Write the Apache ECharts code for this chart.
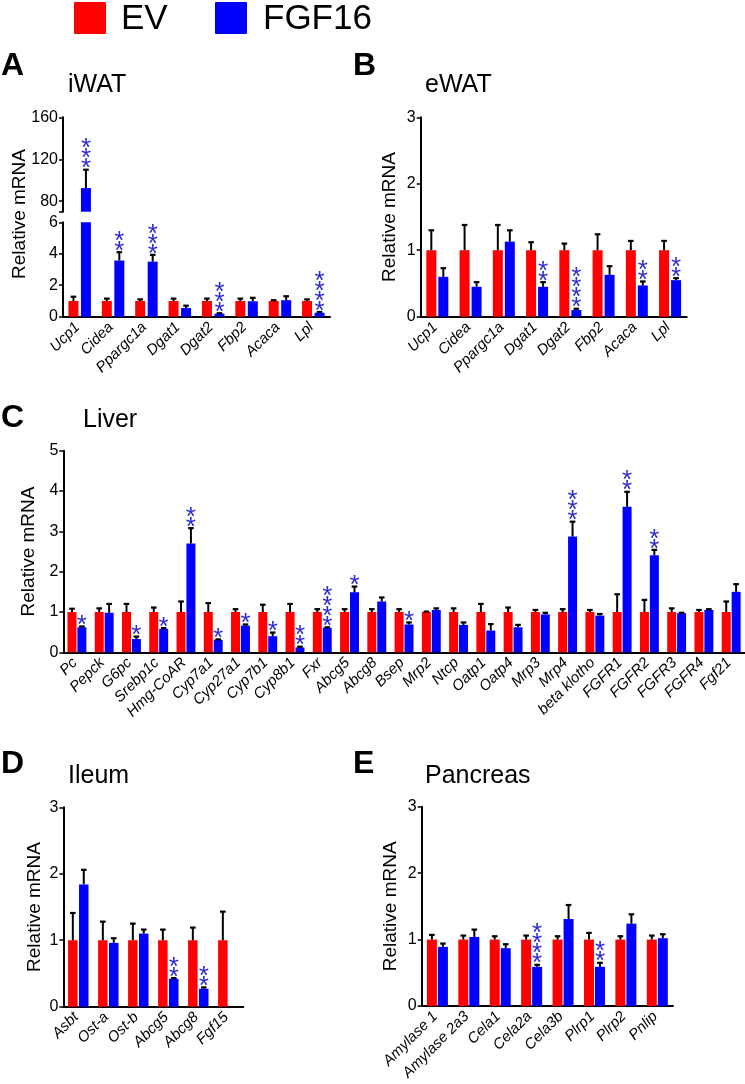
<!DOCTYPE html>
<html><head><meta charset="utf-8">
<script src="https://cdn.jsdelivr.net/npm/echarts@6/dist/echarts.min.js"></script>
<style>html,body{margin:0;padding:0;background:#fff}#c{width:745px;height:1084px}</style>
</head><body><div id="c"></div>
<script>
// ---------------- DATA ----------------
const groupNames = ['EV', 'FGF16'];

// A: iWAT (broken axis)
const catA = ['Ucp1','Cidea','Ppargc1a','Dgat1','Dgat2','Fbp2','Acaca','Lpl'];
const evA = [1,1,1,1,1,1,1,1];
const evTopA = [1.27,1.15,1.1,1.15,1.15,1.15,1.05,1.1];
const fgfA = [92.5,3.57,3.5,0.55,0.19,0.98,1.05,0.25];
const fgfTopA = [110,4.1,3.93,0.7,0.22,1.2,1.3,0.3];
const starsA = ['***','**','***','','***','','','****'];
const yLabelsAUpper = [80,120,160];

// B: eWAT
const catB = ['Ucp1','Cidea','Ppargc1a','Dgat1','Dgat2','Fbp2','Acaca','Lpl'];
const evB = [1,1,1,1,1,1,1,1];
const evTopB = [1.30,1.38,1.38,1.12,1.10,1.24,1.14,1.14];
const fgfB = [0.60,0.45,1.13,0.45,0.10,0.63,0.47,0.55];
const fgfTopB = [0.73,0.52,1.30,0.52,0.12,0.76,0.53,0.58];
const starsB = ['','','','**','****','','**','**'];

// C: Liver
const catC = ['Pc','Pepck','G6pc','Srebp1c','Hmg-CoAR','Cyp7a1','Cyp27a1','Cyp7b1','Cyp8b1','Fxr','Abcg5','Abcg8','Bsep','Mrp2','Ntcp','Oatp1','Oatp4','Mrp3','Mrp4','beta klotho','FGFR1','FGFR2','FGFR3','FGFR4','Fgf21'];
const evC = [1,1,1,1,1,1,1,1,1,1,1,1,1,1,1,1,1,1,1,1,1,1,1,1,1];
const evTopC = [1.08,1.09,1.2,1.11,1.26,1.22,1.07,1.18,1.2,1.07,1.07,1.07,1.07,1.01,1.09,1.2,1.11,1.05,1.07,1.05,1.44,1.30,1.09,1.05,1.26];
const fgfC = [0.62,0.98,0.33,0.58,2.70,0.31,0.66,0.40,0.12,0.61,1.49,1.26,0.69,1.05,0.68,0.54,0.62,0.94,2.87,0.91,3.61,2.41,0.97,1.05,1.50];
const fgfTopC = [0.64,1.2,0.39,0.6,3.08,0.32,0.69,0.49,0.14,0.62,1.63,1.36,0.74,1.09,0.74,0.70,0.68,0.98,3.24,0.95,3.98,2.54,0.98,1.07,1.69];
const starsC = ['*','','*','*','**','*','*','*','**','****','*','','*','','','','','','***','','**','**','','',''];

// D: Ileum
const catD = ['Asbt','Ost-a','Ost-b','Abcg5','Abcg8','Fgf15'];
const evD = [1,1,1,1,1,1];
const evTopD = [1.41,1.28,1.25,1.16,1.19,1.43];
const fgfD = [1.84,0.96,1.10,0.42,0.27,null];
const fgfTopD = [2.06,1.03,1.16,0.43,0.29,null];
const starsD = ['','','','**','**',''];

// E: Pancreas
const catE = ['Amylase 1','Amylase 2a3','Cela1','Cela2a','Cela3b','Plrp1','Plrp2','Pnlip'];
const evE = [1,1,1,1,1,1,1,1];
const evTopE = [1.07,1.06,1.05,1.06,1.05,1.10,1.05,1.06];
const fgfE = [0.89,1.04,0.87,0.59,1.31,0.59,1.24,1.02];
const fgfTopE = [0.94,1.15,0.93,0.62,1.52,0.65,1.38,1.08];
const starsE = ['','','','****','','**','',''];

// ---------------- STYLE / BUILD ----------------
const FONT = "'Liberation Sans', Arial, Helvetica, sans-serif";
const RED = '#ff0000', BLUE = '#0000ff', STAR = '#2b2bd2';
const AX = {color:'#000', width:2};

const grids = [], xAxes = [], yAxes = [], series = [];

function addGrid(g){ grids.push(Object.assign({outerBoundsMode:'none', containLabel:false}, g)); return grids.length - 1; }

function xAxisFor(gi, cats, show){
  return {type:'category', gridIndex:gi, data:cats, show:show,
    axisLine:{lineStyle:AX}, axisTick:{alignWithLabel:true, length:4, lineStyle:{color:'#000', width:1.5}},
    axisLabel:{interval:0, rotate:45, fontStyle:'italic', fontSize:15, color:'#000', margin:6,
      padding:[0, 3, 0, 0], fontFamily:FONT}};
}
function yAxisFor(gi, min, max, interval, name, nameGap, extra){
  return Object.assign({type:'value', gridIndex:gi, min:min, max:max, interval:interval,
    splitLine:{show:false}, axisLine:{show:true, lineStyle:AX},
    axisTick:{show:true, length:4, lineStyle:{color:'#000', width:1.5}},
    axisLabel:{fontSize:16, color:'#000', margin:5, fontFamily:FONT},
    name:name, nameLocation:'middle', nameGap:nameGap,
    nameTextStyle:{fontSize:19, color:'#000', fontFamily:FONT}}, extra||{});
}

function barPair(gi, ev, fgf, w, gap){
  const mk = (name, data, color) => ({type:'bar', name:name, xAxisIndex:gi, yAxisIndex:gi,
    data:data.map(v => v == null ? '-' : v), barWidth:w, barGap:(gap*100)+'%', clip:true,
    itemStyle:{color:color}, silent:true, animation:false});
  series.push(mk(groupNames[0], ev, RED), mk(groupNames[1], fgf, BLUE));
}

function errBars(gi, vals, tops, side, w, gap, keep){
  const off = side * (w + gap*w) / 2;
  const data = [];
  vals.forEach((v,i) => { if (v != null && tops[i] != null && keep(v, tops[i])) data.push([i, v, tops[i]]); });
  series.push({type:'custom', xAxisIndex:gi, yAxisIndex:gi, data:data, z:5, silent:true, animation:false,
    renderItem(params, api){
      const i = api.value(0), v = api.value(1), t = api.value(2);
      const p0 = api.coord([i, v]), p1 = api.coord([i, t]);
      const x = p0[0] + off;
      const cap = 2.8;
      return {type:'group', children:[
        {type:'line', shape:{x1:x, y1:p0[1], x2:x, y2:p1[1]}, style:{stroke:'#000', lineWidth:2}},
        {type:'line', shape:{x1:x-cap, y1:p1[1], x2:x+cap, y2:p1[1]}, style:{stroke:'#000', lineWidth:2.2}}
      ]};
    }});
}

function starMarks(gi, tops, stars, w, gap, keep){
  const off = (w + gap*w) / 2;
  const entries = [];
  stars.forEach((s,i) => { if (s && keep(tops[i])) entries.push({i:i, t:tops[i], s:s}); });
  series.push({type:'custom', xAxisIndex:gi, yAxisIndex:gi, silent:true, z:6, animation:false,
    data: entries.map(e => [e.i, e.t]),
    renderItem(params, api){
      const e = entries[params.dataIndex];
      const p = api.coord([e.i, e.t]);
      return {type:'text', x:p[0] + off, y:p[1] + 4.5,
        style:{text:e.s.split('').join('\n'), fill:STAR, font:'26px ' + FONT, lineHeight:10,
          align:'center', verticalAlign:'bottom'}};
    }});
}

function panel(gi, cats, ev, evTop, fgf, fgfTop, stars, w, gap, keepV){
  barPair(gi, ev, fgf, w, gap);
  errBars(gi, ev, evTop, -1, w, gap, keepV);
  errBars(gi, fgf, fgfTop, 1, w, gap, keepV);
  starMarks(gi, fgfTop, stars, w, gap, t => keepV(0, t));
}

// Panel A: two stacked grids (broken axis)
const A_MAX_LOW = 6, A_MIN_UP = 70;
let gi = addGrid({left:63, top:117.3, width:267, height:94.4});
xAxes.push(xAxisFor(gi, catA, false));
yAxes.push(yAxisFor(gi, A_MIN_UP, 160, null, '', 0,
  {axisLabel:{fontSize:16, color:'#000', margin:5, fontFamily:FONT, customValues:yLabelsAUpper},
   axisTick:{show:true, length:4, lineStyle:{color:'#000', width:1.5}, customValues:[A_MIN_UP].concat(yLabelsAUpper)}}));
(function(){
  const up = v => v > A_MIN_UP;
  barPair(gi, evA.map(v => up(v) ? v : null), fgfA.map(v => up(v) ? v : null), 10, 0.25);
  errBars(gi, fgfA, fgfTopA, 1, 10, 0.25, (v,t) => v > A_MIN_UP);
  starMarks(gi, fgfTopA, starsA, 10, 0.25, t => t > A_MIN_UP);
})();

gi = addGrid({left:63, top:222.3, width:267, height:94.4});
xAxes.push(xAxisFor(gi, catA, true));
yAxes.push(yAxisFor(gi, 0, A_MAX_LOW, 2, '', 0));
panel(gi, catA, evA, evTopA, fgfA, fgfTopA, starsA, 10, 0.25, (v,t) => t <= A_MAX_LOW);

// Panel B
gi = addGrid({left:420.7, top:117.3, width:266, height:199.4});
xAxes.push(xAxisFor(gi, catB, true));
yAxes.push(yAxisFor(gi, 0, 3, 1, 'Relative mRNA', 21));
panel(gi, catB, evB, evTopB, fgfB, fgfTopB, starsB, 10, 0.2, () => true);

// Panel C
gi = addGrid({left:63.3, top:450.7, width:681.5, height:201.6});
xAxes.push(xAxisFor(gi, catC, true));
yAxes.push(yAxisFor(gi, 0, 5, 1, 'Relative mRNA', 19));
panel(gi, catC, evC, evTopC, fgfC, fgfTopC, starsC, 9, 0.1, () => true);

// Panel D
gi = addGrid({left:63.3, top:807.3, width:180, height:199.4});
xAxes.push(xAxisFor(gi, catD, true));
yAxes.push(yAxisFor(gi, 0, 3, 1, 'Relative mRNA', 19));
panel(gi, catD, evD, evTopD, fgfD, fgfTopD, starsD, 9.5, 0.15, () => true);

// Panel E
gi = addGrid({left:421.7, top:806.7, width:251.3, height:199.3});
xAxes.push(xAxisFor(gi, catE, true));
yAxes.push(yAxisFor(gi, 0, 3, 1, 'Relative mRNA', 21));
panel(gi, catE, evE, evTopE, fgfE, fgfTopE, starsE, 10, 0.1, () => true);

// Text decorations
function txt(x, y, s, size, bold, extra){
  return Object.assign({type:'text', x:x, y:y, silent:true,
    style:{text:s, fill:'#000', font:(bold ? 'bold ' : '') + size + 'px ' + FONT, align:'left', verticalAlign:'middle'}}, extra||{});
}
const graphic = [
  {type:'rect', shape:{x:74, y:2, width:32, height:32, r:1}, style:{fill:RED}, silent:true},
  txt(121, 19.5, groupNames[0], 35, false),
  {type:'rect', shape:{x:215, y:2, width:32, height:32, r:1}, style:{fill:BLUE}, silent:true},
  txt(263, 19.5, groupNames[1], 35, false),
  txt(1, 66.5, 'A', 32, true), txt(68, 85, 'iWAT', 25, false),
  txt(353, 66.5, 'B', 32, true), txt(425, 85, 'eWAT', 25, false),
  txt(1, 418.5, 'C', 32, true), txt(83, 420, 'Liver', 25, false),
  txt(1, 764, 'D', 32, true), txt(68, 776, 'Ileum', 25, false),
  txt(353, 764, 'E', 32, true), txt(425, 776, 'Pancreas', 25, false),
  {type:'text', x:20, y:214, rotation:Math.PI/2, silent:true,
    style:{text:'Relative mRNA', fill:'#000', font:'19px ' + FONT, align:'center', verticalAlign:'middle'}}
];

const chart = echarts.init(document.getElementById('c'), null, {renderer:'canvas'});
chart.setOption({
  animation:false,
  backgroundColor:'#fff',
  textStyle:{fontFamily:FONT},
  grid:grids, xAxis:xAxes, yAxis:yAxes, series:series, graphic:graphic
});
</script>
</body></html>
